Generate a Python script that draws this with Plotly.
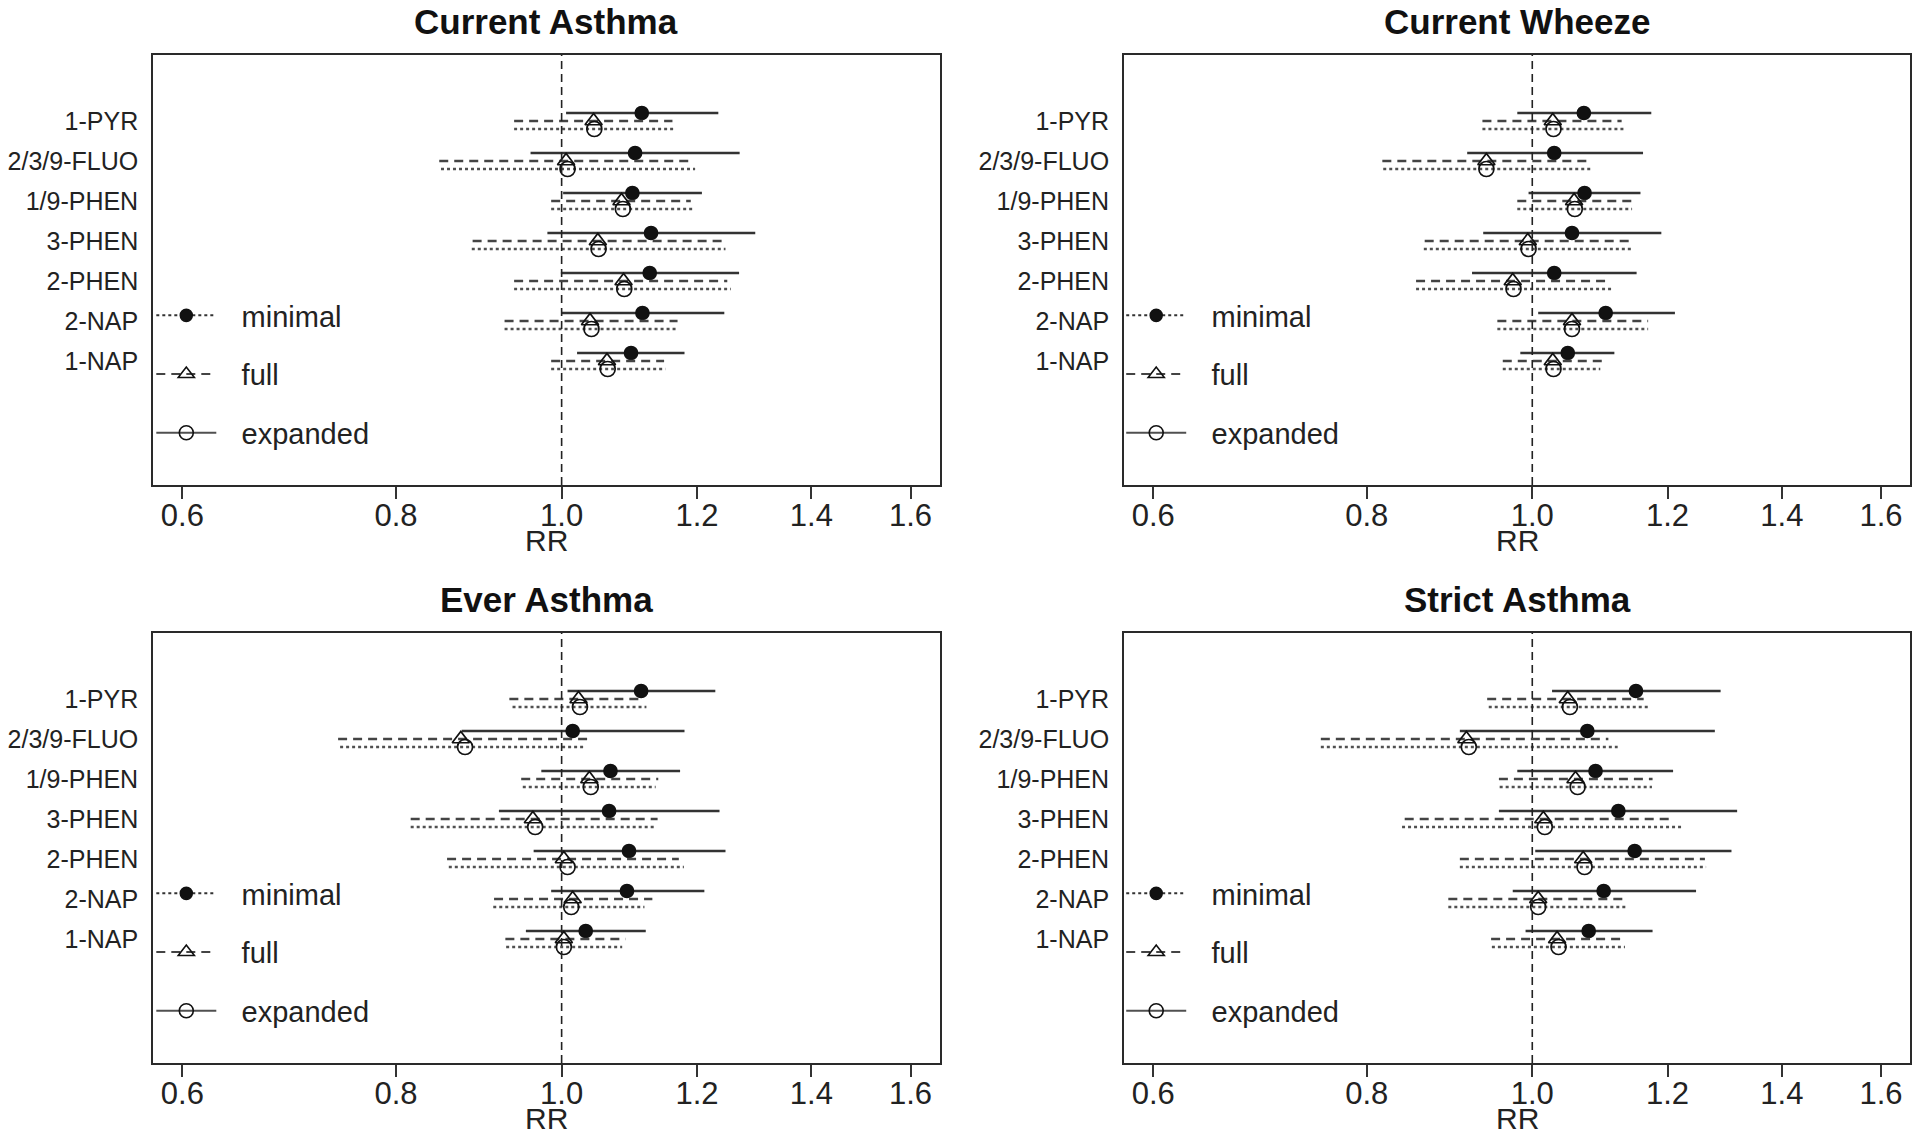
import math
import plotly.graph_objects as go

# ---------------- data ----------------
categories = ["1-PYR", "2/3/9-FLUO", "1/9-PHEN", "3-PHEN", "2-PHEN", "2-NAP", "1-NAP"]
row_pos = [7, 6, 5, 4, 3, 2, 1]
panel_titles = ["Current Asthma", "Current Wheeze", "Ever Asthma", "Strict Asthma"]
model_names = ["minimal", "full", "expanded"]
x_tickvals = [0.6, 0.8, 1.0, 1.2, 1.4, 1.6]
x_ticktext = ["0.6", "0.8", "1.0", "1.2", "1.4", "1.6"]

# Current Asthma
ca_min_est = [1.114, 1.104, 1.100, 1.128, 1.126, 1.115, 1.098]
ca_min_lo = [1.006, 0.959, 1.002, 0.981, 0.999, 1.000, 1.021]
ca_min_hi = [1.235, 1.271, 1.208, 1.298, 1.270, 1.245, 1.180]
ca_full_est = [1.044, 1.006, 1.084, 1.050, 1.087, 1.039, 1.063]
ca_full_lo = [0.938, 0.848, 0.986, 0.887, 0.938, 0.926, 0.986]
ca_full_hi = [1.161, 1.190, 1.190, 1.245, 1.250, 1.169, 1.148]
ca_exp_est = [1.045, 1.008, 1.086, 1.051, 1.088, 1.041, 1.064]
ca_exp_lo = [0.938, 0.850, 0.986, 0.886, 0.938, 0.926, 0.986]
ca_exp_hi = [1.164, 1.197, 1.196, 1.247, 1.256, 1.166, 1.150]

# Current Wheeze
cw_min_est = [1.072, 1.030, 1.073, 1.055, 1.030, 1.104, 1.049]
cw_min_lo = [0.980, 0.916, 0.995, 0.936, 0.922, 1.008, 0.984]
cw_min_hi = [1.174, 1.161, 1.157, 1.190, 1.151, 1.212, 1.117]
cw_full_est = [1.028, 0.940, 1.058, 0.994, 0.974, 1.055, 1.028]
cw_full_lo = [0.935, 0.817, 0.980, 0.865, 0.855, 0.954, 0.961]
cw_full_hi = [1.128, 1.081, 1.146, 1.146, 1.111, 1.169, 1.101]
cw_exp_est = [1.029, 0.940, 1.059, 0.995, 0.975, 1.055, 1.029]
cw_exp_lo = [0.935, 0.818, 0.980, 0.864, 0.855, 0.954, 0.961]
cw_exp_hi = [1.131, 1.082, 1.144, 1.143, 1.114, 1.169, 1.096]

# Ever Asthma
ea_min_est = [1.113, 1.015, 1.068, 1.066, 1.095, 1.092, 1.033]
ea_min_lo = [1.008, 0.874, 0.973, 0.919, 0.963, 0.986, 0.953]
ea_min_hi = [1.230, 1.180, 1.173, 1.237, 1.247, 1.212, 1.120]
ea_full_est = [1.023, 0.873, 1.038, 0.962, 1.003, 1.015, 1.003]
ea_full_lo = [0.932, 0.740, 0.947, 0.816, 0.857, 0.913, 0.927]
ea_full_hi = [1.112, 1.036, 1.139, 1.138, 1.171, 1.130, 1.090]
ea_exp_est = [1.025, 0.878, 1.040, 0.965, 1.008, 1.013, 1.003]
ea_exp_lo = [0.936, 0.742, 0.949, 0.816, 0.859, 0.912, 0.928]
ea_exp_hi = [1.121, 1.032, 1.135, 1.135, 1.179, 1.118, 1.085]

# Strict Asthma
sa_min_est = [1.150, 1.077, 1.089, 1.123, 1.148, 1.101, 1.079]
sa_min_lo = [1.027, 0.907, 0.980, 0.956, 1.004, 0.974, 0.991]
sa_min_hi = [1.289, 1.279, 1.209, 1.318, 1.308, 1.247, 1.176]
sa_full_est = [1.049, 0.915, 1.060, 1.015, 1.071, 1.008, 1.034]
sa_full_lo = [0.941, 0.752, 0.956, 0.842, 0.907, 0.893, 0.946]
sa_full_hi = [1.162, 1.108, 1.176, 1.209, 1.262, 1.135, 1.133]
sa_exp_est = [1.052, 0.918, 1.063, 1.017, 1.073, 1.008, 1.036]
sa_exp_lo = [0.943, 0.752, 0.957, 0.839, 0.907, 0.893, 0.947]
sa_exp_hi = [1.172, 1.122, 1.175, 1.226, 1.264, 1.137, 1.133]

panels = [
    [(ca_min_lo, ca_min_est, ca_min_hi), (ca_full_lo, ca_full_est, ca_full_hi), (ca_exp_lo, ca_exp_est, ca_exp_hi)],
    [(cw_min_lo, cw_min_est, cw_min_hi), (cw_full_lo, cw_full_est, cw_full_hi), (cw_exp_lo, cw_exp_est, cw_exp_hi)],
    [(ea_min_lo, ea_min_est, ea_min_hi), (ea_full_lo, ea_full_est, ea_full_hi), (ea_exp_lo, ea_exp_est, ea_exp_hi)],
    [(sa_min_lo, sa_min_est, sa_min_hi), (sa_full_lo, sa_full_est, sa_full_hi), (sa_exp_lo, sa_exp_est, sa_exp_hi)],
]

# ---------------- styling ----------------
OFF = 8                      # browser page margin
W, H = 1925 - OFF, 1138 - OFF
FONT = "Liberation Sans, Arial, Helvetica, sans-serif"
row_offset = [0.2, 0.0, -0.2]
plot_dash = ["solid", "9px,6px", "3px,3px"]
legend_dash = ["3px,3px", "9px,6px", "solid"]
line_color = ["#333333", "#444444", "#505050"]
symbols = ["circle", "triangle-up-open", "circle-open"]
msize = [13, 15, 15]
COL_SHIFT = 975
ROW_SHIFT = 578


def px_x(p):
    return (p - OFF) / W


def px_y(p):
    return 1 - (p - OFF) / H


xr = [math.log10(0.6), math.log10(1.6)]
pad = 0.04 * (xr[1] - xr[0])
x_range = [xr[0] - pad, xr[1] + pad]
y_range = [-2.1, 8.65]

x_doms = [[px_x(144), px_x(934.5)], [px_x(1120), px_x(1910)]]
y_doms = [[px_y(485), px_y(55)], [px_y(1063), px_y(633)]]

fig = go.Figure()
annotations = []
shapes = []

for p in range(4):
    col = p % 2
    row = p // 2
    ax = "" if p == 0 else str(p + 1)
    xa, ya = "x" + ax, "y" + ax
    leg = "legend" if p == 0 else "legend" + str(p + 1)
    for m in range(3):
        lo, est, hi = panels[p][m]
        xs, ys = [], []
        for i in range(len(categories)):
            yy = row_pos[i] + row_offset[m]
            xs += [lo[i], hi[i], None]
            ys += [yy, yy, None]
        fig.add_trace(go.Scatter(
            x=xs, y=ys, mode="lines", xaxis=xa, yaxis=ya, showlegend=False,
            line=dict(color=line_color[m], width=2.5, dash=plot_dash[m]), hoverinfo="skip"))
        fig.add_trace(go.Scatter(
            x=est, y=[r + row_offset[m] for r in row_pos], mode="markers", xaxis=xa, yaxis=ya,
            showlegend=False,
            marker=dict(symbol=symbols[m], size=msize[m], color="#111111",
                        line=dict(color="#111111", width=1.7))))
    # legend key (styles as drawn in the original figure)
    for m in range(3):
        fig.add_trace(go.Scatter(
            x=[None], y=[None], mode="lines+markers", name="\u2002\u2009" + model_names[m],
            xaxis=xa, yaxis=ya, legend=leg, legendgroup=f"g{p}{m}", showlegend=True,
            line=dict(color=line_color[m], width=2, dash=legend_dash[m]),
            marker=dict(symbol=symbols[m], size=msize[m] - 1, color="#111111",
                        line=dict(color="#111111", width=1.6))))

    axis_common = dict(showline=True, mirror=True, linecolor="#2a2a2a", linewidth=2.2,
                       showgrid=False, zeroline=False)
    fig.layout["xaxis" + ax] = dict(
        axis_common, type="log", range=x_range, domain=x_doms[col], anchor=ya,
        tickvals=x_tickvals, ticktext=x_ticktext, ticks="outside", ticklen=12, tickwidth=1.5,
        tickcolor="#333333", ticklabelstandoff=-10,
        tickfont=dict(family=FONT, size=31, color="#222222"))
    fig.layout["yaxis" + ax] = dict(
        axis_common, range=y_range, domain=y_doms[row], anchor=xa,
        tickvals=row_pos, ticktext=categories, ticks="", ticklabelstandoff=8,
        tickfont=dict(family=FONT, size=25, color="#222222"))
    fig.layout[leg] = dict(
        x=px_x(142 + COL_SHIFT * col), y=y_doms[row][1] - 235 / H,
        xanchor="left", yanchor="top", bgcolor="rgba(0,0,0,0)",
        font=dict(family=FONT, size=29, color="#222222"),
        itemwidth=60, tracegroupgap=18, itemclick=False, itemdoubleclick=False)

    shapes.append(dict(type="line", xref=xa, yref=ya + " domain", x0=1, x1=1, y0=0, y1=1,
                       line=dict(color="#222222", width=1.6, dash="8px,5px")))
    cx = (x_doms[col][0] + x_doms[col][1]) / 2
    annotations.append(dict(text="<b>" + panel_titles[p] + "</b>", xref="paper", yref="paper",
                            x=cx, y=px_y(21.5 + ROW_SHIFT * row), xanchor="center", yanchor="middle",
                            showarrow=False, font=dict(family=FONT, size=35, color="#111111")))
    annotations.append(dict(text="RR", xref="paper", yref="paper",
                            x=cx, y=px_y(540 + ROW_SHIFT * row), xanchor="center", yanchor="middle",
                            showarrow=False, font=dict(family=FONT, size=30, color="#222222")))

fig.update_layout(width=W, height=H, margin=dict(l=0, r=0, t=0, b=0),
                  paper_bgcolor="white", plot_bgcolor="white",
                  annotations=annotations, shapes=shapes, showlegend=True)

fig.write_html("out.html")
